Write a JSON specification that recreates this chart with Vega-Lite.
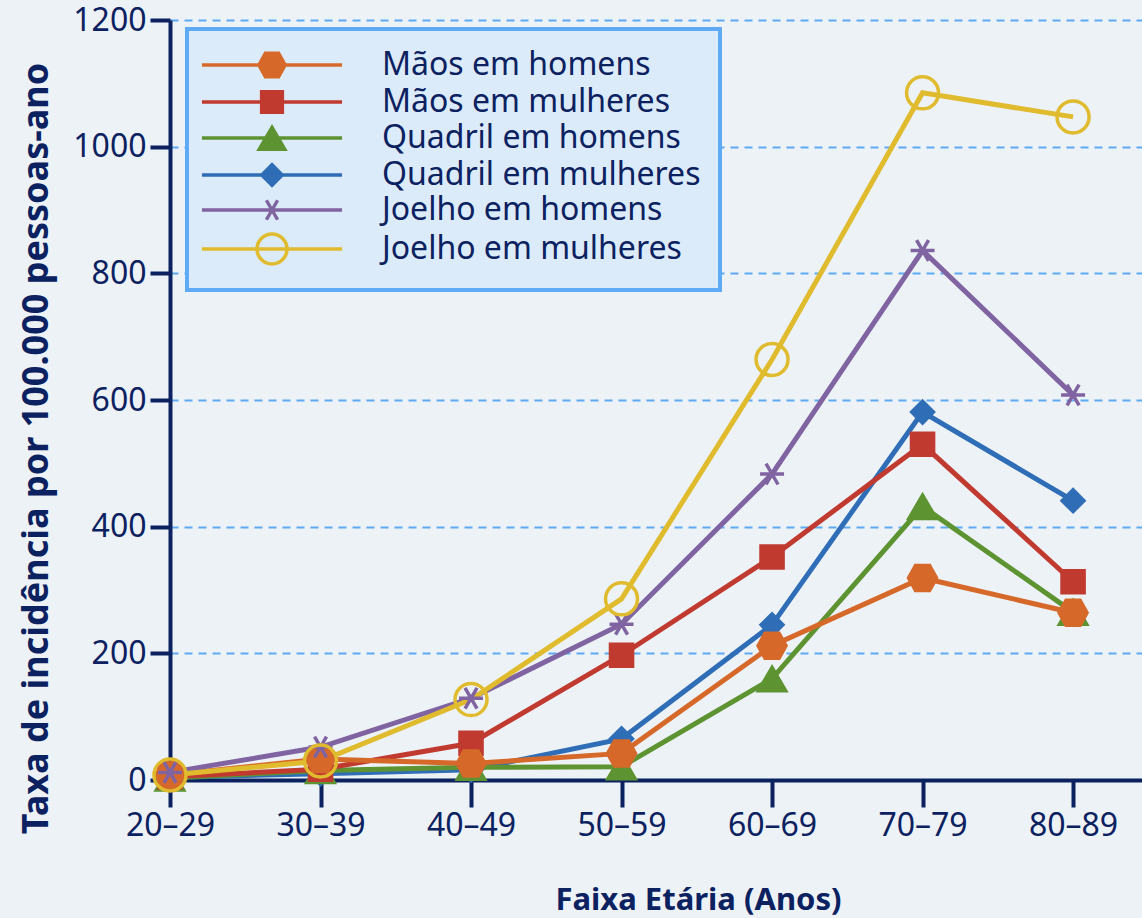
{
  "$schema": "https://vega.github.io/schema/vega-lite/v6.json",
  "width": 972,
  "height": 760,
  "autosize": {"type": "none"},
  "padding": {"left": 170, "top": 20, "right": 0, "bottom": 138},
  "background": "#edf2f7",
  "config": {
    "view": {"stroke": null},
    "legend": {
      "orient": "none",
      "padding": 19,
      "fillColor": "#dcebfa",
      "strokeColor": "#5eaaf5",
      "strokeWidth": 4,
      "cornerRadius": 0,
      "symbolSize": 900,
      "symbolStrokeWidth": 3.5,
      "symbolOffset": 49,
      "labelOffset": 93,
      "labelFont": "Noto Sans",
      "labelFontSize": 32,
      "labelColor": "#0b2160",
      "labelLimit": 500,
      "rowPadding": 0
    }
  },
  "data": {
    "values": [
      {"serie": "Quadril em mulheres", "idx": 0, "faixa": "20–29", "valor": 4},
      {"serie": "Quadril em mulheres", "idx": 1, "faixa": "30–39", "valor": 10},
      {"serie": "Quadril em mulheres", "idx": 2, "faixa": "40–49", "valor": 16},
      {"serie": "Quadril em mulheres", "idx": 3, "faixa": "50–59", "valor": 65},
      {"serie": "Quadril em mulheres", "idx": 4, "faixa": "60–69", "valor": 245},
      {"serie": "Quadril em mulheres", "idx": 5, "faixa": "70–79", "valor": 581},
      {"serie": "Quadril em mulheres", "idx": 6, "faixa": "80–89", "valor": 441},
      {"serie": "Quadril em homens", "idx": 0, "faixa": "20–29", "valor": 3},
      {"serie": "Quadril em homens", "idx": 1, "faixa": "30–39", "valor": 15},
      {"serie": "Quadril em homens", "idx": 2, "faixa": "40–49", "valor": 20},
      {"serie": "Quadril em homens", "idx": 3, "faixa": "50–59", "valor": 21},
      {"serie": "Quadril em homens", "idx": 4, "faixa": "60–69", "valor": 160},
      {"serie": "Quadril em homens", "idx": 5, "faixa": "70–79", "valor": 432},
      {"serie": "Quadril em homens", "idx": 6, "faixa": "80–89", "valor": 265},
      {"serie": "Mãos em mulheres", "idx": 0, "faixa": "20–29", "valor": 5},
      {"serie": "Mãos em mulheres", "idx": 1, "faixa": "30–39", "valor": 17},
      {"serie": "Mãos em mulheres", "idx": 2, "faixa": "40–49", "valor": 58},
      {"serie": "Mãos em mulheres", "idx": 3, "faixa": "50–59", "valor": 197},
      {"serie": "Mãos em mulheres", "idx": 4, "faixa": "60–69", "valor": 352},
      {"serie": "Mãos em mulheres", "idx": 5, "faixa": "70–79", "valor": 530},
      {"serie": "Mãos em mulheres", "idx": 6, "faixa": "80–89", "valor": 313},
      {"serie": "Mãos em homens", "idx": 0, "faixa": "20–29", "valor": 8},
      {"serie": "Mãos em homens", "idx": 1, "faixa": "30–39", "valor": 33},
      {"serie": "Mãos em homens", "idx": 2, "faixa": "40–49", "valor": 26},
      {"serie": "Mãos em homens", "idx": 3, "faixa": "50–59", "valor": 42},
      {"serie": "Mãos em homens", "idx": 4, "faixa": "60–69", "valor": 212},
      {"serie": "Mãos em homens", "idx": 5, "faixa": "70–79", "valor": 319},
      {"serie": "Mãos em homens", "idx": 6, "faixa": "80–89", "valor": 264},
      {"serie": "Joelho em homens", "idx": 0, "faixa": "20–29", "valor": 12},
      {"serie": "Joelho em homens", "idx": 1, "faixa": "30–39", "valor": 52},
      {"serie": "Joelho em homens", "idx": 2, "faixa": "40–49", "valor": 129},
      {"serie": "Joelho em homens", "idx": 3, "faixa": "50–59", "valor": 246},
      {"serie": "Joelho em homens", "idx": 4, "faixa": "60–69", "valor": 483},
      {"serie": "Joelho em homens", "idx": 5, "faixa": "70–79", "valor": 836},
      {"serie": "Joelho em homens", "idx": 6, "faixa": "80–89", "valor": 608},
      {"serie": "Joelho em mulheres", "idx": 0, "faixa": "20–29", "valor": 8},
      {"serie": "Joelho em mulheres", "idx": 1, "faixa": "30–39", "valor": 30},
      {"serie": "Joelho em mulheres", "idx": 2, "faixa": "40–49", "valor": 127},
      {"serie": "Joelho em mulheres", "idx": 3, "faixa": "50–59", "valor": 286},
      {"serie": "Joelho em mulheres", "idx": 4, "faixa": "60–69", "valor": 664},
      {"serie": "Joelho em mulheres", "idx": 5, "faixa": "70–79", "valor": 1085},
      {"serie": "Joelho em mulheres", "idx": 6, "faixa": "80–89", "valor": 1047}
    ]
  },
  "encoding": {
    "x": {
      "field": "idx",
      "type": "quantitative",
      "scale": {"domain": [0, 6.458], "nice": false, "zero": false},
      "axis": {
        "values": [0, 1, 2, 3, 4, 5, 6],
        "labelExpr": "['20–29','30–39','40–49','50–59','60–69','70–79','80–89'][datum.value]",
        "grid": false,
        "domainColor": "#0b2160",
        "domainWidth": 4,
        "tickColor": "#0b2160",
        "tickWidth": 4,
        "tickSize": 27,
        "labelFont": "Noto Sans",
        "labelFontSize": 32,
        "labelColor": "#0b2160",
        "labelPadding": 3,
        "labelFlush": false,
        "labelOverlap": false,
        "title": "Faixa Etária (Anos)",
        "titleFont": "Noto Sans",
        "titleFontSize": 31,
        "titleFontWeight": "bold",
        "titleColor": "#0b2160",
        "titleX": 528,
        "titleY": 129,
        "titleAlign": "center",
        "titleBaseline": "alphabetic"
      }
    },
    "y": {
      "field": "valor",
      "type": "quantitative",
      "scale": {"domain": [0, 1200], "nice": false},
      "axis": {
        "values": [0, 200, 400, 600, 800, 1000, 1200],
        "format": "d",
        "grid": true,
        "gridColor": "#5eaaf2",
        "gridWidth": 2,
        "gridDash": [8, 6],
        "domainColor": "#0b2160",
        "domainWidth": 4,
        "tickColor": "#0b2160",
        "tickWidth": 4,
        "tickSize": 20,
        "labelFont": "Noto Sans",
        "labelFontSize": 32,
        "labelColor": "#0b2160",
        "labelPadding": 4,
        "labelOverlap": false,
        "title": "Taxa de incidência por 100.000 pessoas-ano",
        "titleFont": "Noto Sans",
        "titleFontSize": 36,
        "titleFontWeight": "bold",
        "titleColor": "#0b2160",
        "titleAngle": -90,
        "titleX": -123,
        "titleY": 428,
        "titleAlign": "center",
        "titleBaseline": "alphabetic"
      }
    }
  },
  "layer": [
    {
      "mark": {"type": "line", "strokeWidth": 5, "strokeJoin": "miter"},
      "encoding": {
        "color": {
          "field": "serie",
          "type": "nominal",
          "scale": {
            "domain": ["Quadril em mulheres", "Quadril em homens", "Mãos em mulheres", "Mãos em homens", "Joelho em homens", "Joelho em mulheres"],
            "range": ["#2f6eb6", "#5e9332", "#c03a30", "#d6692a", "#8064a2", "#e0bb2e"]
          },
          "legend": null
        }
      }
    },
    {
      "mark": {"type": "point", "size": 1024, "strokeWidth": 3.5, "opacity": 1},
      "encoding": {
        "shape": {
          "field": "serie",
          "type": "nominal",
          "scale": {
            "domain": ["Quadril em mulheres", "Quadril em homens", "Mãos em mulheres", "Mãos em homens", "Joelho em homens", "Joelho em mulheres"],
            "range": [
              "M0,-0.68L0.68,0L0,0.68L-0.68,0Z",
              "M0,-0.7L0.85,0.75L-0.85,0.75Z",
              "M-0.69,-0.69L0.69,-0.69L0.69,0.69L-0.69,0.69Z",
              "M-0.875,0L-0.44,-0.78L0.44,-0.78L0.875,0L0.44,0.78L-0.44,0.78Z",
              "M-0.75,0L0.75,0M-0.375,-0.65L0.375,0.65M-0.375,0.65L0.375,-0.65",
              "M1,0A1,1,0,1,1,-1,0A1,1,0,1,1,1,0Z"
            ]
          },
          "legend": null
        },
        "fill": {
          "field": "serie",
          "type": "nominal",
          "scale": {
            "domain": ["Mãos em homens", "Mãos em mulheres", "Quadril em homens", "Quadril em mulheres", "Joelho em homens", "Joelho em mulheres"],
            "range": ["#d6692a", "#c03a30", "#5e9332", "#2f6eb6", "transparent", "transparent"]
          },
          "legend": {
            "title": null,
            "legendX": 17,
            "legendY": 9,
            "symbolType": {"expr": "'M-4.67,0L4.67,0' + scale('shape', datum.value)"},
            "labelExpr": "datum.label + '\u00a0\u00a0\u00a0'"
          }
        },
        "stroke": {
          "field": "serie",
          "type": "nominal",
          "scale": {
            "domain": ["Mãos em homens", "Mãos em mulheres", "Quadril em homens", "Quadril em mulheres", "Joelho em homens", "Joelho em mulheres"],
            "range": ["#d6692a", "#c03a30", "#5e9332", "#2f6eb6", "#8064a2", "#e0bb2e"]
          },
          "legend": {
            "title": null,
            "legendX": 17,
            "legendY": 9,
            "symbolType": {"expr": "'M-4.67,0L4.67,0' + scale('shape', datum.value)"},
            "labelExpr": "datum.label + '\u00a0\u00a0\u00a0'"
          }
        }
      }
    }
  ]
}
